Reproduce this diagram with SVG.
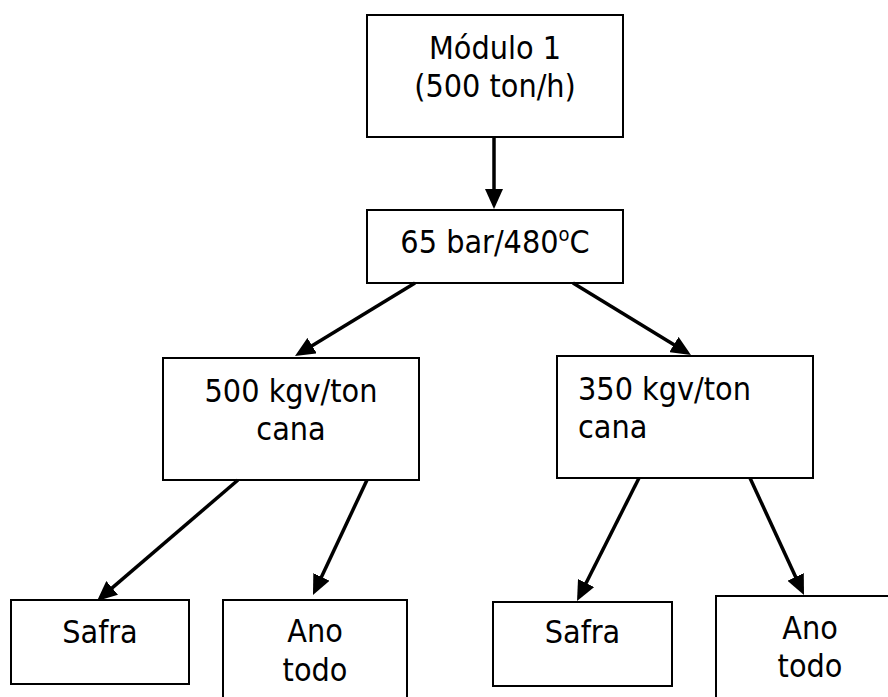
<svg xmlns="http://www.w3.org/2000/svg" width="888" height="697" viewBox="0 0 888 697">
<style>
.box{fill:#fff;stroke:#000;stroke-width:2}
.lbl{font-family:"DejaVu Sans Condensed","DejaVu Sans",sans-serif;font-stretch:condensed;font-size:32px;fill:#000}
.c{text-anchor:middle}
.conn line{stroke:#000;stroke-width:3.5;marker-end:url(#ah)}
</style>
<defs>
<marker id="ah" markerUnits="userSpaceOnUse" markerWidth="20" markerHeight="18" refX="15" refY="9" orient="auto">
<path d="M0,0 L20,9 L0,18 z" fill="#000"/>
</marker>
</defs>
<rect width="888" height="697" fill="#fff"/>
<g id="modulo">
<rect class="box" x="367" y="15" width="256" height="122"/>
<text class="lbl c" x="495" y="59">Módulo 1</text>
<text class="lbl c" x="495" y="97">(500 ton/h)</text>
</g>
<g id="pressao">
<rect class="box" x="367" y="210" width="256" height="73"/>
<text class="lbl c" x="495" y="253">65 bar/480<tspan font-size="20" dy="-12">o</tspan><tspan dy="12">C</tspan></text>
</g>
<g id="kgv500">
<rect class="box" x="163" y="358" width="256" height="122"/>
<text class="lbl c" x="291" y="402">500 kgv/ton</text>
<text class="lbl c" x="291" y="440">cana</text>
</g>
<g id="kgv350">
<rect class="box" x="557" y="356" width="256" height="122"/>
<text class="lbl" x="578" y="400">350 kgv/ton</text>
<text class="lbl" x="578" y="438">cana</text>
</g>
<g id="safra1">
<rect class="box" x="11" y="600" width="178" height="84"/>
<text class="lbl c" x="100" y="643">Safra</text>
</g>
<g id="ano1">
<rect class="box" x="223" y="600" width="184" height="110"/>
<text class="lbl c" x="315" y="642">Ano</text>
<text class="lbl c" x="315" y="681">todo</text>
</g>
<g id="safra2">
<rect class="box" x="493" y="602" width="179" height="84"/>
<text class="lbl c" x="582.5" y="643">Safra</text>
</g>
<g id="ano2">
<rect class="box" x="716" y="596" width="188" height="114"/>
<text class="lbl c" x="810" y="639">Ano</text>
<text class="lbl c" x="810" y="677">todo</text>
</g>
<g id="connectors" class="conn">
<line x1="494" y1="137" x2="494" y2="204"/>
<line x1="415" y1="283" x2="299.3" y2="353.4"/>
<line x1="573" y1="283" x2="686.7" y2="352.4"/>
<line x1="238" y1="480" x2="100.8" y2="597.7"/>
<line x1="367" y1="480" x2="315.1" y2="590.5"/>
<line x1="639" y1="478" x2="579.3" y2="596.5"/>
<line x1="750" y1="478" x2="801.9" y2="590.5"/>
</g>
</svg>
